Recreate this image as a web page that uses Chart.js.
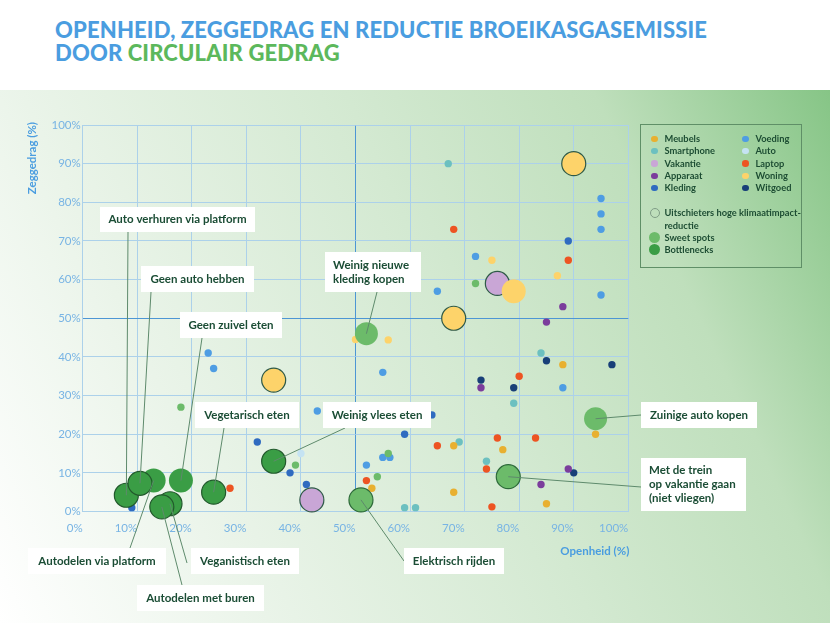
<!DOCTYPE html>
<html lang="nl">
<head>
<meta charset="utf-8">
<title>Openheid, zeggedrag en reductie broeikasgasemissie</title>
<script src="https://cdn.jsdelivr.net/npm/chart.js@4.4.1/dist/chart.umd.min.js"></script>
<style>
  html, body { margin: 0; padding: 0; }
  body { width: 830px; height: 623px; position: relative; overflow: hidden; background: #fff; font-family: Lato, sans-serif; }
  #bg { position: absolute; left: 0; top: 90px; width: 830px; height: 533px;
        background: linear-gradient(65deg, #ffffff 0%, #eaf4e9 25%, #d3e9d1 55%, #bfdfbc 78%, #86c586 100%); }
  #title { position: absolute; left: 55px; top: 18px; margin: 0; font: 900 22px/23px Lato, sans-serif; color: #4a9de0; letter-spacing: 0.15px; }
  #title .green { color: #5cb85c; }
  #chart { position: absolute; left: 0; top: 0; }
  #legend { position: absolute; left: 640px; top: 124px; width: 162px; height: 144px; border: 1.5px solid #5f8f67; box-sizing: border-box; }
  #legend .item { position: absolute; font: 700 9.3px/12px Lato, sans-serif; color: #1d4d33; white-space: nowrap; }
  #legend .dot { position: absolute; border-radius: 50%; box-sizing: border-box; }
</style>
</head>
<body>
<div id="bg"></div>
<h1 id="title">OPENHEID, ZEGGEDRAG EN REDUCTIE BROEIKASGASEMISSIE<br>DOOR <span class="green">CIRCULAIR GEDRAG</span></h1>
<canvas id="chart" width="830" height="623"></canvas>
<div id="legend"></div>
<script>
// categories + colours
const categories = ['Meubels', 'Smartphone', 'Vakantie', 'Apparaat', 'Kleding', 'Voeding', 'Auto', 'Laptop', 'Woning', 'Witgoed'];
const catColors = ['#e8b030', '#6cc0c0', '#c9a6d6', '#7b3d9c', '#2f6bc0', '#4e9de3', '#c5e3f3', '#ed5422', '#fdd36a', '#183f78'];
const sweetColor = '#6cbb6a';
const bottleColor = '#3a9d45';

// [openheid %, zeggedrag %]
const meubels    = [[88, 38], [94, 20], [77, 16], [68, 17], [68, 5], [85, 2], [53, 6]];
const smartphone = [[67, 90], [84, 41], [79, 28], [69, 18], [74, 13], [59, 1], [61, 1]];
const vakantie   = [];
const apparaat   = [[88, 53], [85, 49], [73, 32], [89, 11], [84, 7]];
const kleding    = [[89, 70], [64, 25], [59, 20], [32, 18], [38, 10], [41, 7], [9, 1]];
const voeding    = [[95, 81], [95, 77], [95, 73], [72, 66], [95, 56], [65, 57], [55, 36], [88, 32], [43, 26], [23, 41], [24, 37], [55, 14], [56.3, 14], [52, 12]];
const auto       = [[40, 15]];
const laptop     = [[68, 73], [89, 65], [80, 35], [76, 19], [83, 19], [65, 17], [74, 11], [75, 1.2], [52, 8], [27, 6]];
const woning     = [[75, 65], [87, 61], [50, 44.5], [56, 44.4]];
const witgoed    = [[85, 39], [97, 38], [73, 34], [79, 32], [90, 10]];
const catPoints = [meubels, smartphone, vakantie, apparaat, kleding, voeding, auto, laptop, woning, witgoed];

// small green dots
const sweetSmall = [[72, 59], [18, 27], [39, 12], [56, 15], [54, 9]];

// big circles
const outliers      = [[90, 90], [68, 50], [35, 34], [76, 59], [42, 3]];
const outlierCats   = ['Woning', 'Woning', 'Woning', 'Vakantie', 'Vakantie'];
const woningBig     = [[79, 57]];
const sweetSpots    = [[52, 46], [94, 24]];
const sweetOutliers = [[51, 3], [78, 9]];
const bottlenecks   = [[13, 8], [18, 8]];
const bottleOutliers = [[8, 4.2], [10.5, 7.3], [16, 2], [14.5, 1.2], [24, 5], [35, 13]];

const xTicks = [0, 10, 20, 30, 40, 50, 60, 70, 80, 90, 100];
const yTicks = [0, 10, 20, 30, 40, 50, 60, 70, 80, 90, 100];

// labels: box = [left, top, w, h] px, from = line start px, target = bubble value
const callouts = [
  { text: ['Auto verhuren via platform'], box: [100, 207, 155, 25], from: [128, 232], target: bottleOutliers[0] },
  { text: ['Geen auto hebben'], box: [141, 266, 113, 26], from: [151, 292], target: bottleOutliers[1] },
  { text: ['Geen zuivel eten'], box: [180, 312, 102, 26], from: [202, 338], target: bottlenecks[1] },
  { text: ['Weinig nieuwe', 'kleding kopen'], box: [325, 252, 96, 40], from: [377, 292], target: sweetSpots[0], left: true },
  { text: ['Vegetarisch eten'], box: [195, 402, 104, 26], from: [224, 428], target: bottleOutliers[4] },
  { text: ['Weinig vlees eten'], box: [323, 402, 108, 26], from: [345, 428], target: bottleOutliers[5] },
  { text: ['Zuinige auto kopen'], box: [641, 402, 116, 26], from: [641, 415], target: sweetSpots[1] },
  { text: ['Met de trein', 'op vakantie gaan', '(niet vliegen)'], box: [641, 458, 105, 53], from: [641, 487], target: sweetOutliers[1], left: true },
  { text: ['Elektrisch rijden'], box: [404, 548, 100, 26], from: [404, 561], target: sweetOutliers[0] },
  { text: ['Autodelen via platform'], box: [28, 548, 138, 26], from: [130, 548], target: bottlenecks[0] },
  { text: ['Veganistisch eten'], box: [191, 548, 108, 26], from: [187, 563], target: bottleOutliers[2] },
  { text: ['Autodelen met buren'], box: [137, 585, 127, 26], from: [182, 585], target: bottleOutliers[3] }
];

const pts = arr => arr.map(([x, y]) => ({ x, y }));
const colorOf = name => catColors[categories.indexOf(name)];

const bigR = 12, smallR = 3.7;
const datasets = [
  { label: 'Bottlenecks (uitschieters)', data: pts(bottleOutliers), backgroundColor: bottleColor, borderColor: '#22592c', borderWidth: 1.2, pointRadius: bigR },
  { label: 'Bottlenecks', data: pts(bottlenecks), backgroundColor: bottleColor, borderWidth: 0, pointRadius: bigR },
  { label: 'Sweet spots (uitschieters)', data: pts(sweetOutliers), backgroundColor: sweetColor, borderColor: '#2d6a3a', borderWidth: 1.2, pointRadius: bigR },
  { label: 'Sweet spots', data: pts(sweetSpots), backgroundColor: sweetColor, borderWidth: 0, pointRadius: 11.5 },
  { label: 'Woning groot', data: pts(woningBig), backgroundColor: colorOf('Woning'), borderWidth: 0, pointRadius: bigR },
  { label: 'Uitschieters', data: pts(outliers), backgroundColor: outlierCats.map(colorOf), borderColor: '#2f5a48', borderWidth: 1.2, pointRadius: bigR },
  { label: 'Sweet spots klein', data: pts(sweetSmall), backgroundColor: sweetColor, borderWidth: 0, pointRadius: smallR }
];
categories.forEach((c, i) => {
  datasets.push({ label: c, data: pts(catPoints[i]), backgroundColor: catColors[i], borderWidth: 0, pointRadius: smallR });
});
datasets.forEach(d => { d.clip = false; d.pointHoverRadius = d.pointRadius; });

const gridColor = '#acd1ea';
const midColor = '#4d96d4';
const tickColor = '#78b4e4';

const calloutPlugin = {
  id: 'callouts',
  afterDatasetsDraw(chart) {
    const { ctx, scales: { x, y } } = chart;
    ctx.save();
    callouts.forEach(c => {
      const tx = x.getPixelForValue(c.target[0]);
      const ty = y.getPixelForValue(c.target[1]);
      ctx.strokeStyle = '#5e8a6c';
      ctx.lineWidth = 1;
      ctx.beginPath();
      ctx.moveTo(c.from[0], c.from[1]);
      ctx.lineTo(tx, ty);
      ctx.stroke();
      const [bx, by, bw, bh] = c.box;
      ctx.fillStyle = '#ffffff';
      ctx.fillRect(bx, by, bw, bh);
      ctx.fillStyle = '#1b4d35';
      ctx.font = 'bold 11.5px Lato, sans-serif';
      ctx.textBaseline = 'middle';
      const lh = 14;
      const y0 = by + bh / 2 - (c.text.length - 1) * lh / 2;
      c.text.forEach((t, i) => {
        if (c.left) { ctx.textAlign = 'left'; ctx.fillText(t, bx + 8, y0 + i * lh); }
        else { ctx.textAlign = 'center'; ctx.fillText(t, bx + bw / 2, y0 + i * lh); }
      });
    });
    // axis titles
    ctx.fillStyle = '#4a9de0';
    ctx.font = 'bold 11.5px Lato, sans-serif';
    ctx.textBaseline = 'middle';
    ctx.textAlign = 'right';
    ctx.fillText('Openheid (%)', chart.chartArea.right + 1, 551);
    ctx.translate(32, chart.chartArea.top - 3);
    ctx.rotate(-Math.PI / 2);
    ctx.fillText('Zeggedrag (%)', 0, 0);
    ctx.restore();
  }
};

new Chart(document.getElementById('chart'), {
  type: 'scatter',
  data: { datasets },
  options: {
    responsive: false,
    animation: false,
    events: [],
    layout: { padding: { top: 125, right: 201.7, bottom: 0, left: 0 } },
    plugins: { legend: { display: false }, tooltip: { enabled: false } },
    scales: {
      x: {
        type: 'linear', min: 0, max: 100,
        afterBuildTicks: s => { s.ticks = xTicks.map(v => ({ value: v })); },
        afterFit: s => { s.height = 111.5; },
        ticks: { callback: v => v + '%', align: 'end', color: tickColor, font: { family: 'Lato', size: 11.5 }, padding: 10, maxRotation: 0 },
        grid: { color: c => (c.tick && c.tick.value === 50 ? midColor : gridColor), lineWidth: 1, drawTicks: false },
        border: { display: true, color: gridColor }
      },
      y: {
        type: 'linear', min: 0, max: 100,
        afterBuildTicks: s => { s.ticks = yTicks.map(v => ({ value: v })); },
        afterFit: s => { s.width = 82.7; },
        ticks: { callback: v => v + '%', color: tickColor, font: { family: 'Lato', size: 11.5 }, padding: 2 },
        grid: { color: c => (c.tick && c.tick.value === 50 ? midColor : gridColor), lineWidth: 1, drawTicks: false },
        border: { display: true, color: gridColor }
      }
    }
  },
  plugins: [calloutPlugin]
});

// legend box
const legend = document.getElementById('legend');
function addItem(label, cx, cy, r, fill, stroke) {
  const d = document.createElement('div');
  d.className = 'dot';
  d.style.left = (cx - r) + 'px';
  d.style.top = (cy - r) + 'px';
  d.style.width = d.style.height = (2 * r) + 'px';
  d.style.background = fill;
  if (stroke) d.style.border = '1px solid ' + stroke;
  legend.appendChild(d);
  if (label) {
    const t = document.createElement('div');
    t.className = 'item';
    t.style.left = (cx + 10) + 'px';
    t.style.top = (cy - 6) + 'px';
    t.textContent = label;
    legend.appendChild(t);
  }
}
categories.forEach((c, i) => {
  const col = i < 5 ? 0 : 1;
  const row = i % 5;
  addItem(c, col ? 104.5 : 13.5, 14 + row * 12.3, 3.2, catColors[i]);
});
addItem('Uitschieters hoge klimaatimpact-', 13.5, 88, 5, 'transparent', '#7f9c86');
const rd = document.createElement('div');
rd.className = 'item'; rd.style.left = '23.5px'; rd.style.top = (100.5 - 6) + 'px'; rd.textContent = 'reductie';
legend.appendChild(rd);
addItem('Sweet spots', 13.5, 112.5, 5.5, sweetColor);
addItem('Bottlenecks', 13.5, 124.8, 5.5, bottleColor);
</script>
</body>
</html>
